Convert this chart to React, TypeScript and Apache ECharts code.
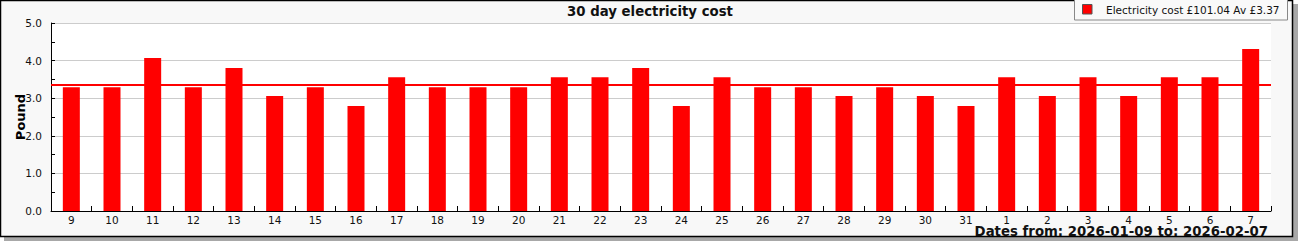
import React, { useEffect, useRef } from "react";
import * as echarts from "echarts";

const FONT = "DejaVu Sans";

const TITLE = "30 day electricity cost";
const Y_NAME = "Pound";
const SERIES_NAME = "Electricity cost";
const TOTAL = 101.04;
const AVERAGE = 3.37;
const DATE_FROM = "2026-01-09";
const DATE_TO = "2026-02-07";

const days = [
  "9", "10", "11", "12", "13", "14", "15", "16", "17", "18",
  "19", "20", "21", "22", "23", "24", "25", "26", "27", "28",
  "29", "30", "31", "1", "2", "3", "4", "5", "6", "7",
];

const costs = [
  3.29, 3.29, 4.07, 3.29, 3.8, 3.06, 3.29, 2.79, 3.56, 3.29,
  3.29, 3.29, 3.56, 3.56, 3.8, 2.79, 3.56, 3.29, 3.29, 3.06,
  3.29, 3.06, 2.79, 3.56, 3.06, 3.56, 3.06, 3.56, 3.56, 4.31,
];

const Y_MIN = 0;
const Y_MAX = 5;
const Y_STEP = 1;

export default function App() {
  const ref = useRef<HTMLDivElement>(null);

  useEffect(() => {
    document.body.style.margin = "0";
    if (!ref.current) return;
    const chart = echarts.init(ref.current, null, { renderer: "svg" });
    const legendText = `${SERIES_NAME} £${TOTAL.toFixed(2)} Av £${AVERAGE.toFixed(2)}`;
    chart.setOption({
      animation: false,
      backgroundColor: "#ffffff",
      textStyle: { fontFamily: FONT },
      title: {
        text: TITLE,
        left: "center",
        top: 4,
        padding: 0,
        textStyle: { fontFamily: FONT, fontSize: 13.3, fontWeight: "bold", color: "#111", lineHeight: 15 },
      },
      grid: {
        left: 51,
        top: 23,
        width: 1220,
        height: 188,
        show: true,
        backgroundColor: "#ffffff",
        borderWidth: 0,
        containLabel: false,
        outerBoundsMode: "none",
      },
      xAxis: {
        type: "category",
        data: days,
        boundaryGap: true,
        axisLine: { show: true, lineStyle: { color: "#000", width: 1 } },
        axisTick: { show: true, inside: true, length: 5, lineStyle: { color: "#000" } },
        axisLabel: { fontFamily: FONT, fontSize: 10.5, color: "#111", margin: 3, interval: 0, lineHeight: 12 },
        splitLine: { show: false },
      },
      yAxis: {
        type: "value",
        min: Y_MIN,
        max: Y_MAX,
        interval: Y_STEP,
        name: Y_NAME,
        nameLocation: "middle",
        nameRotate: 90,
        nameGap: 24,
        nameMoveOverlap: false,
        nameTextStyle: { fontFamily: FONT, fontSize: 13, fontWeight: "bold", color: "#000" },
        axisLine: { show: true, lineStyle: { color: "#000", width: 1 } },
        axisTick: { show: true, inside: true, length: 4, lineStyle: { color: "#000" } },
        minorTick: { show: true, splitNumber: 2, length: 4, lineStyle: { color: "#000" } },
        splitLine: { show: true, lineStyle: { color: "#cccccc", width: 1 } },
        axisLabel: {
          fontFamily: FONT,
          fontSize: 10.5,
          color: "#111",
          margin: 9,
          formatter: (v: number) => v.toFixed(1),
        },
      },
      series: [
        {
          name: SERIES_NAME,
          type: "bar",
          data: costs,
          barWidth: 17,
          itemStyle: { color: "#ff0000" },
          z: 2,
          markLine: {
            silent: true,
            symbol: "none",
            label: { show: false },
            lineStyle: { color: "#ff0000", width: 2, type: "solid" },
            data: [{ yAxis: AVERAGE }],
          },
        },
      ],
      graphic: [
        {
          type: "rect",
          z: -100,
          shape: { x: 4, y: 4, width: 1294, height: 237 },
          style: { fill: "#a8a8a8" },
        },
        {
          type: "rect",
          z: -99,
          shape: { x: 0.5, y: 0.5, width: 1292, height: 236 },
          style: { fill: "#f8f8f8", stroke: "#000", lineWidth: 1.5 },
        },
        {
          type: "text",
          z: 100,
          x: 1268,
          y: 231.5,
          style: {
            text: `Dates from: ${DATE_FROM} to: ${DATE_TO}`,
            font: `bold 13.3px '${FONT}'`,
            fill: "#111",
            align: "right",
            verticalAlign: "middle",
          },
        },
        {
          type: "rect",
          z: 100,
          shape: { x: 1074.5, y: -0.5, width: 213, height: 20.5 },
          style: { fill: "#f9f9f9", stroke: "#888", lineWidth: 1 },
        },
        {
          type: "rect",
          z: 101,
          shape: { x: 1082.5, y: 4.5, width: 9.5, height: 9.5 },
          style: { fill: "#ff0000", stroke: "#555", lineWidth: 1 },
        },
        {
          type: "text",
          z: 101,
          x: 1106,
          y: 10,
          style: {
            text: legendText,
            font: `10.5px '${FONT}'`,
            fill: "#111",
            align: "left",
            verticalAlign: "middle",
          },
        },
      ],
    });
    return () => chart.dispose();
  }, []);

  return <div ref={ref} style={{ width: 1300, height: 245 }} />;
}
